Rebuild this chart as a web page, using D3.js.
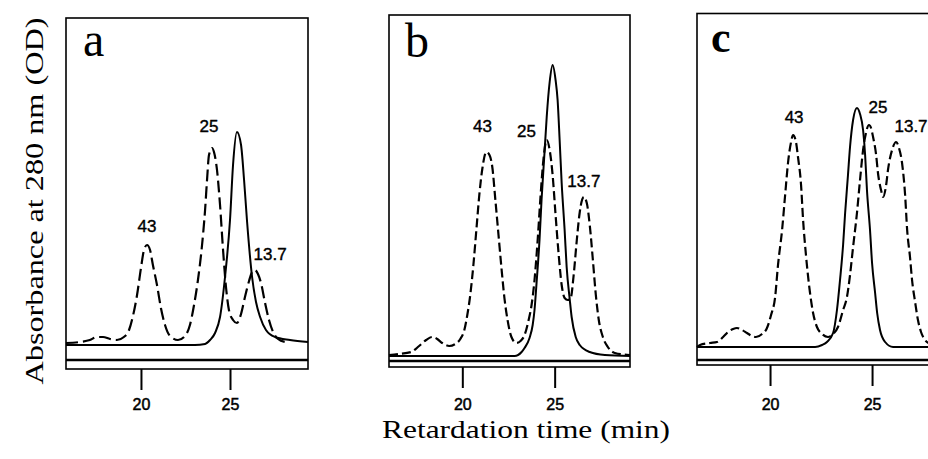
<!DOCTYPE html>
<html>
<head>
<meta charset="utf-8">
<script src="https://cdn.jsdelivr.net/npm/d3@7"></script>
<style>
  body { margin: 0; background: #fff; }
  svg { display: block; }
</style>
</head>
<body>
<svg id="chart" width="928" height="459"></svg>
<script>
// retention time (min) and absorbance (OD, arbitrary scale)
var panelNames = ['a', 'b', 'c']
var tickValues = [20, 25]
var peakNames = ['43', '25', '13.7']

// panel a
var aSolidT  = [15.79, 23.03, 23.60, 23.88, 24.16, 24.44, 24.72, 25.00, 25.17, 25.39, 25.62, 25.79, 25.96, 26.24, 26.46, 26.69, 27.02, 27.53, 28.37, 29.38]
var aSolidOD = [0, 0, 0.004, 0.02, 0.048, 0.112, 0.272, 0.5, 0.72, 0.852, 0.8, 0.66, 0.492, 0.272, 0.172, 0.112, 0.06, 0.032, 0.02, 0.012]
var aDashT  = [15.79, 16.57, 17.13, 17.53, 17.87, 18.26, 18.65, 19.04, 19.33, 19.55, 19.78, 20.00, 20.17, 20.34, 20.51, 20.67, 20.90, 21.12, 21.35, 21.63, 22.08, 22.47, 22.75, 22.98, 23.20, 23.43, 23.60, 23.71, 23.82, 23.99, 24.10, 24.27, 24.44, 24.61, 24.78, 24.94, 25.17, 25.39, 25.62, 25.84, 26.07, 26.24, 26.40, 26.57, 26.74, 26.97, 27.19, 27.42, 27.70, 28.09]
var aDashOD = [0.008, 0.012, 0.02, 0.032, 0.032, 0.024, 0.02, 0.032, 0.06, 0.116, 0.2, 0.308, 0.38, 0.4, 0.38, 0.32, 0.24, 0.148, 0.08, 0.036, 0.02, 0.036, 0.08, 0.16, 0.26, 0.4, 0.54, 0.66, 0.76, 0.788, 0.772, 0.7, 0.56, 0.38, 0.228, 0.14, 0.1, 0.088, 0.124, 0.192, 0.256, 0.292, 0.3, 0.284, 0.248, 0.168, 0.1, 0.052, 0.024, 0.012]
var aLabelT  = [20.34, 23.82, 27.25]
var aLabelOD = [0.452, 0.852, 0.34]

// panel b
var bSolidT  = [16.03, 22.83, 23.21, 23.37, 23.64, 23.81, 23.91, 24.02, 24.18, 24.29, 24.46, 24.57, 24.73, 24.89, 25.05, 25.16, 25.27, 25.38, 25.54, 25.65, 25.82, 25.92, 26.14, 26.36, 26.90, 27.72, 29.08]
var bSolidOD = [0, 0, 0.016, 0.032, 0.072, 0.124, 0.184, 0.292, 0.464, 0.624, 0.824, 0.956, 1.096, 1.164, 1.104, 1.024, 0.864, 0.692, 0.504, 0.356, 0.224, 0.156, 0.076, 0.044, 0.016, 0.004, 0]
var bDashT  = [16.03, 16.58, 17.23, 17.66, 18.04, 18.37, 18.64, 18.91, 19.29, 19.62, 19.89, 20.11, 20.27, 20.43, 20.60, 20.76, 20.92, 21.09, 21.30, 21.47, 21.63, 21.79, 21.96, 22.12, 22.28, 22.45, 22.66, 22.93, 23.15, 23.37, 23.59, 23.75, 23.91, 24.08, 24.24, 24.40, 24.57, 24.73, 24.89, 25.05, 25.22, 25.38, 25.54, 25.71, 25.87, 26.03, 26.20, 26.36, 26.58, 26.74, 26.90, 27.07, 27.23, 27.39, 27.61, 27.88, 28.26, 29.08]
var bDashOD = [0.004, 0.008, 0.016, 0.04, 0.064, 0.076, 0.068, 0.052, 0.04, 0.048, 0.068, 0.104, 0.164, 0.244, 0.364, 0.504, 0.644, 0.752, 0.816, 0.804, 0.752, 0.624, 0.484, 0.352, 0.232, 0.144, 0.076, 0.052, 0.06, 0.084, 0.144, 0.204, 0.304, 0.464, 0.644, 0.792, 0.864, 0.824, 0.724, 0.564, 0.404, 0.284, 0.232, 0.224, 0.232, 0.324, 0.464, 0.576, 0.636, 0.612, 0.524, 0.384, 0.244, 0.144, 0.076, 0.036, 0.012, 0.004]
var bLabelT  = [21.09, 23.48, 26.58]
var bLabelOD = [0.896, 0.876, 0.676]

// panel c
var cSolidT  = [16.42, 22.21, 22.55, 22.79, 23.09, 23.28, 23.43, 23.58, 23.68, 23.82, 23.92, 24.07, 24.26, 24.41, 24.56, 24.66, 24.75, 24.90, 25.00, 25.15, 25.25, 25.39, 25.64, 26.03, 28.30]
var cSolidOD = [0, 0, 0.008, 0.02, 0.056, 0.148, 0.268, 0.408, 0.536, 0.688, 0.8, 0.908, 0.956, 0.932, 0.868, 0.768, 0.628, 0.468, 0.336, 0.216, 0.136, 0.068, 0.02, 0, 0]
var cDashT  = [16.42, 16.57, 17.06, 17.40, 17.70, 17.94, 18.19, 18.38, 18.63, 18.87, 19.12, 19.31, 19.61, 19.85, 20.05, 20.25, 20.39, 20.59, 20.74, 20.88, 21.03, 21.13, 21.27, 21.37, 21.52, 21.62, 21.76, 21.96, 22.11, 22.30, 22.55, 22.84, 23.09, 23.33, 23.58, 23.77, 23.92, 24.07, 24.26, 24.41, 24.56, 24.66, 24.85, 24.95, 25.05, 25.20, 25.29, 25.44, 25.54, 25.69, 25.78, 25.98, 26.18, 26.32, 26.47, 26.62, 26.72, 26.86, 26.96, 27.11, 27.25, 27.40, 27.60, 27.84, 28.09]
var cDashOD = [0, 0.008, 0.016, 0.02, 0.04, 0.06, 0.072, 0.076, 0.068, 0.056, 0.044, 0.04, 0.052, 0.076, 0.128, 0.2, 0.328, 0.468, 0.608, 0.736, 0.82, 0.848, 0.82, 0.76, 0.648, 0.508, 0.368, 0.216, 0.136, 0.08, 0.052, 0.04, 0.052, 0.08, 0.148, 0.2, 0.288, 0.4, 0.536, 0.668, 0.788, 0.84, 0.888, 0.876, 0.84, 0.768, 0.696, 0.628, 0.6, 0.648, 0.708, 0.788, 0.82, 0.796, 0.736, 0.608, 0.468, 0.36, 0.268, 0.18, 0.108, 0.06, 0.028, 0.012, 0.004]
var cLabelT  = [21.18, 25.29, 26.91]
var cLabelOD = [0.896, 0.936, 0.86]

// layout of the three boxes (pixels)
var panels = [
  {left: 66,  right: 308, top: 18,   bottom: 369, base: 345, floor: 360, t0: 15.79, t1: 29.38, dash: '12,5',
   solid: [aSolidT, aSolidOD], dashed: [aDashT, aDashOD], lab: [aLabelT, aLabelOD], nameX: 83, nameY: 56, bold: false},
  {left: 389, right: 630, top: 15,   bottom: 367, base: 356, floor: 361, t0: 16.03, t1: 29.08, dash: '9,4',
   solid: [bSolidT, bSolidOD], dashed: [bDashT, bDashOD], lab: [bLabelT, bLabelOD], nameX: 405, nameY: 57, bold: false},
  {left: 697, right: 940, top: 13.5, bottom: 365, base: 347, floor: 360, t0: 16.42, t1: 28.33, dash: '9,4',
   solid: [cSolidT, cSolidOD], dashed: [cDashT, cDashOD], lab: [cLabelT, cLabelOD], nameX: 711, nameY: 52, bold: true}
]

var svg = d3.select('#chart')
var serif = '"Liberation Serif", "Times New Roman", serif'
var sans = '"Liberation Sans", Arial, sans-serif'

panels.forEach(function(p, i) {
  var x = d3.scaleLinear().domain([p.t0, p.t1]).range([p.left, p.right])
  var y = d3.scaleLinear().domain([0, 1]).range([p.base, p.base - 250])
  var g = svg.append('g')

  // box
  g.append('rect')
    .attr('x', p.left).attr('y', p.top)
    .attr('width', p.right - p.left).attr('height', p.bottom - p.top)
    .attr('fill', 'none').attr('stroke', '#000').attr('stroke-width', 1.6)
  // lower rule
  g.append('line')
    .attr('x1', p.left).attr('x2', p.right)
    .attr('y1', p.floor).attr('y2', p.floor)
    .attr('stroke', '#000').attr('stroke-width', 2.4)

  // ticks
  var axis = d3.axisBottom(x).tickValues(tickValues).tickSize(21).tickPadding(9)
  var ax = g.append('g')
    .attr('transform', 'translate(0,' + p.bottom + ')')
    .call(axis)
  ax.select('.domain').remove()
  ax.selectAll('line').attr('stroke', '#000').attr('stroke-width', 2)
  ax.selectAll('text')
    .attr('fill', '#000')
    .attr('stroke', '#000').attr('stroke-width', 0.5)
    .style('font', '16px ' + sans)
    .attr('y', 410 - p.bottom).attr('dy', 0)

  var line = d3.line()
    .x(function(d) { return x(d[0]) })
    .y(function(d) { return y(d[1]) })
    .curve(d3.curveMonotoneX)

  g.append('path')
    .datum(d3.zip(p.solid[0], p.solid[1]))
    .attr('d', line)
    .attr('fill', 'none').attr('stroke', '#000').attr('stroke-width', 2)

  g.append('path')
    .datum(d3.zip(p.dashed[0], p.dashed[1]))
    .attr('d', line)
    .attr('fill', 'none').attr('stroke', '#000').attr('stroke-width', 2.2)
    .attr('stroke-dasharray', p.dash)

  // peak labels (kDa)
  g.selectAll('.peak')
    .data(peakNames)
    .enter()
    .append('text')
    .attr('x', function(d, k) { return x(p.lab[0][k]) })
    .attr('y', function(d, k) { return y(p.lab[1][k]) })
    .attr('text-anchor', 'middle')
    .attr('stroke', '#000').attr('stroke-width', 0.4)
    .style('font', '17px ' + sans)
    .text(function(d) { return d })

  // panel letter
  g.append('text')
    .attr('x', p.nameX).attr('y', p.nameY)
    .style('font', (p.bold ? 'bold 44px ' : '48px ') + serif)
    .text(panelNames[i])
})

// axis titles
svg.append('text')
  .attr('transform', 'translate(43,201)rotate(-90)')
  .attr('text-anchor', 'middle')
  .attr('textLength', 367).attr('lengthAdjust', 'spacingAndGlyphs')
  .style('font', '26px ' + serif)
  .text('Absorbance at 280 nm (OD)')

svg.append('text')
  .attr('x', 526).attr('y', 438)
  .attr('text-anchor', 'middle')
  .attr('textLength', 288).attr('lengthAdjust', 'spacingAndGlyphs')
  .style('font', '25px ' + serif)
  .text('Retardation time (min)')
</script>
</body>
</html>
